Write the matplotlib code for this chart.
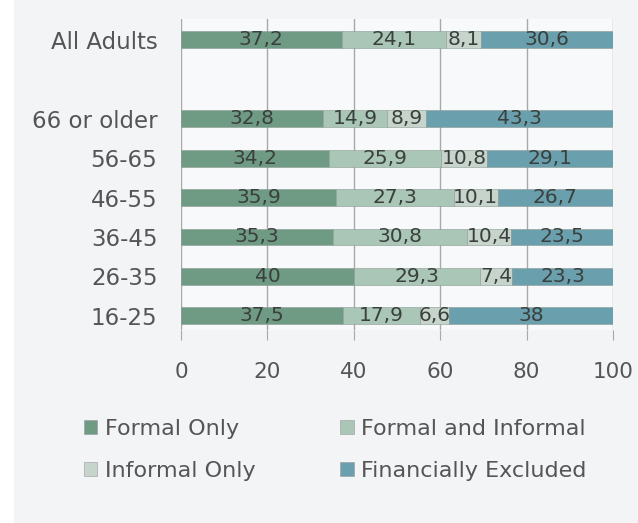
import matplotlib
matplotlib.use('Agg')
import matplotlib.pyplot as plt
from matplotlib.patches import Rectangle, Patch

categories = ['16-25', '26-35', '36-45', '46-55', '56-65', '66 or older', 'All Adults']
positions = [0, 1, 2, 3, 4, 5, 7]
formal_only = [37.5, 40, 35.3, 35.9, 34.2, 32.8, 37.2]
formal_informal = [17.9, 29.3, 30.8, 27.3, 25.9, 14.9, 24.1]
informal_only = [6.6, 7.4, 10.4, 10.1, 10.8, 8.9, 8.1]
excluded = [38, 23.3, 23.5, 26.7, 29.1, 43.3, 30.6]
series_names = ['Formal Only', 'Formal and Informal', 'Informal Only', 'Financially Excluded']
colors = ['#6f9a84', '#a9c6b6', '#c7d4cc', '#6a9fae']
xticks = [0, 20, 40, 60, 80, 100]

plt.rcParams['font.family'] = ['DejaVu Sans']

fig = plt.figure(figsize=(6.38, 5.23), dpi=100, facecolor='#f3f4f6')
fig.patches.append(Rectangle((0, 0), 14 / 638, 1, transform=fig.transFigure,
                             facecolor='white', edgecolor='none', zorder=0))
ax = fig.add_axes([181 / 638, 1 - 330 / 523, (613 - 181) / 638, (330 - 19) / 523])
ax.set_facecolor('#f8f9fa')

all_series = [formal_only, formal_informal, informal_only, excluded]
left = [0] * len(categories)
for vals, col in zip(all_series, colors):
    bars = ax.barh(positions, vals, left=left, height=0.43, color=col,
                   edgecolor='#8a9a92', linewidth=0.4, zorder=3)
    for b, v in zip(bars, vals):
        txt = ('%g' % v).replace('.', ',')
        ax.text(b.get_x() + b.get_width() / 2, b.get_y() + b.get_height() / 2, txt,
                ha='center', va='center', fontsize=14.5, color='#3a403d', zorder=4)
    left = [l + v for l, v in zip(left, vals)]

ax.set_xlim(0, 100)
ax.set_ylim(-0.36, 7.53)
ax.set_xticks(xticks)
ax.set_yticks(positions)
ax.set_yticklabels(categories)
ax.xaxis.grid(True, color='#a8a8a8', linewidth=1, zorder=1)
ax.tick_params(axis='x', length=7, color='#a8a8a8', pad=16, labelsize=15.5, labelcolor='#555555')
ax.tick_params(axis='y', length=0, pad=17, labelsize=16.5, labelcolor='#555555')
for s in ax.spines.values():
    s.set_visible(False)

handles = [Patch(facecolor=c, edgecolor='#999999', linewidth=0.4) for c in colors]
order = [0, 2, 1, 3]
leg = fig.legend([handles[i] for i in order], [series_names[i] for i in order],
                 ncol=2, loc='center left', bbox_to_anchor=(84 / 638, 1 - 450 / 523),
                 borderaxespad=0, borderpad=0,
                 frameon=False, fontsize=16, handlelength=0.6, handleheight=0.6,
                 handletextpad=0.35, columnspacing=3.8, labelspacing=1.0)
for t in leg.get_texts():
    t.set_color('#555555')

fig.savefig('out.png', dpi=100, facecolor=fig.get_facecolor())
